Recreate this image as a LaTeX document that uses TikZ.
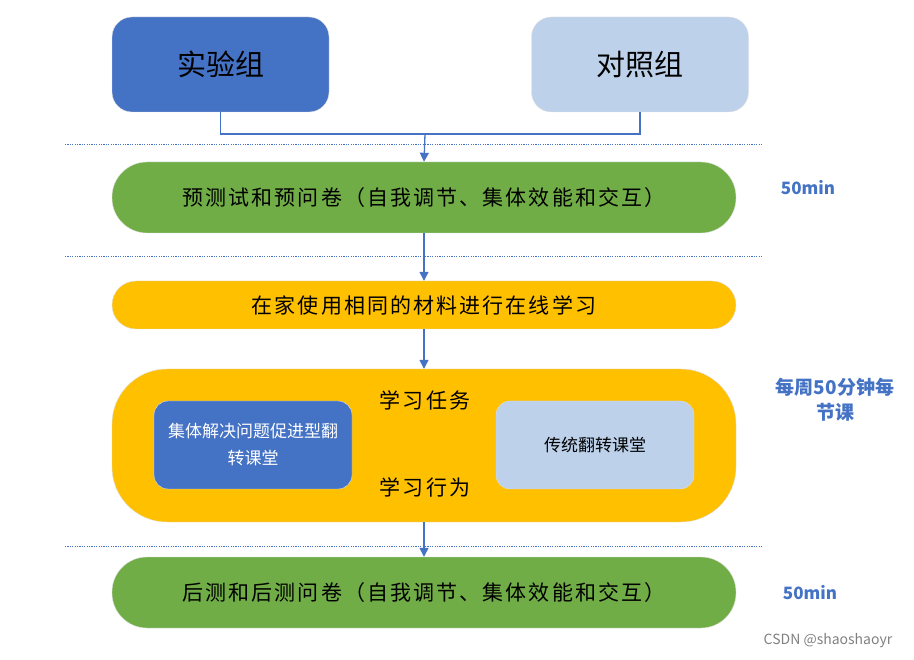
\documentclass[tikz,border=0pt]{standalone}
\usepackage{fontspec}
\setmainfont{Noto Sans CJK SC}
\newfontfamily\widecjk[LetterSpace=10]{Noto Sans CJK SC}
\usetikzlibrary{arrows.meta, positioning}
\definecolor{grpBlue}{HTML}{4472C4}
\definecolor{grpLight}{HTML}{BDD1EB}
\definecolor{stepGreen}{HTML}{70AD47}
\definecolor{stepGold}{HTML}{FFC000}

\begin{document}
\begin{tikzpicture}[x=1pt, y=-1pt,
    grpbox/.style={draw=gray!25, rounded corners=20pt, minimum width=217pt,
      minimum height=95pt, align=center, font=\fontsize{29}{34}\selectfont},
    pillbox/.style={draw=gray!25, minimum width=624pt, align=center,
      font=\widecjk\fontsize{21}{25}\selectfont},
    innerbox/.style={draw=gray!25, rounded corners=14pt, minimum width=198pt,
      minimum height=88pt, align=center, font=\fontsize{17}{27}\selectfont},
    sidenote/.style={text=grpBlue, align=center, font=\bfseries\fontsize{19}{25}\selectfont},
    flow/.style={draw=grpBlue, line width=1.3pt},
    sep/.style={draw=grpBlue, line width=1pt, dash pattern=on 1.1pt off 1.3pt}]
  \useasboundingbox (0,0) rectangle (914,660);
  % groups
  \node[grpbox, fill=grpBlue] (exp) at (220.5,64.5) {实验组};
  \node[grpbox, fill=grpLight] (ctl) at (640,64.5) {对照组};
  \coordinate (merge) at (425,134);
  % steps
  \node[pillbox, fill=stepGreen, minimum height=71pt, rounded corners=35pt]
    (pre) at (424,197.5) {预测试和预问卷（自我调节、集体效能和交互）};
  \node[pillbox, fill=stepGold, minimum height=48pt, rounded corners=24pt]
    (home) at (424,305) {在家使用相同的材料进行在线学习};
  \node[pillbox, fill=stepGold, minimum height=153pt, rounded corners=55pt]
    (class) at (424,445.5) {};
  \node[pillbox, fill=stepGreen, minimum height=71pt, rounded corners=35pt]
    (post) at (424,592.5) {后测和后测问卷（自我调节、集体效能和交互）};
  % inside the class block
  \node[innerbox, fill=grpBlue, text=white] (cps) at (253,445) {集体解决问题促进型翻\\转课堂};
  \node[innerbox, fill=grpLight] (trad) at (595,445) {传统翻转课堂};
  \node[font=\widecjk\fontsize{21}{25}\selectfont] (task) at (425,400) {学习任务};
  \node[font=\widecjk\fontsize{21}{25}\selectfont] (act) at (425,487) {学习行为};
  % time notes
  \node[sidenote, font=\bfseries\fontsize{17}{20}\selectfont] (t1) at (808,188) {50min};
  \node[sidenote] (t2) at (835,400) {每周50分钟每\\节课};
  \node[sidenote, font=\bfseries\fontsize{17}{20}\selectfont] (t3) at (810,593) {50min};
  % separators
  \foreach \y in {145,257,546}
    \draw[sep] (65,\y) -- (762,\y);
  % connectors
  \draw[flow] (exp.south) |- (merge) -| (ctl.south);
  \draw[flow, -{Triangle[length=9pt, width=9pt]}] (merge) -- (pre.north);
  \draw[flow, -{Triangle[length=9pt, width=9pt]}] (pre.south) -- (home.north);
  \draw[flow, -{Triangle[length=9pt, width=9pt]}] (home.south) -- (class.north);
  \draw[flow, -{Triangle[length=9pt, width=9pt]}] (class.south) -- (post.north);
  \node[text=gray, font=\fontsize{14}{16}\selectfont] (mark) at (828,641) {CSDN @shaoshaoyr};
\end{tikzpicture}
\end{document}
